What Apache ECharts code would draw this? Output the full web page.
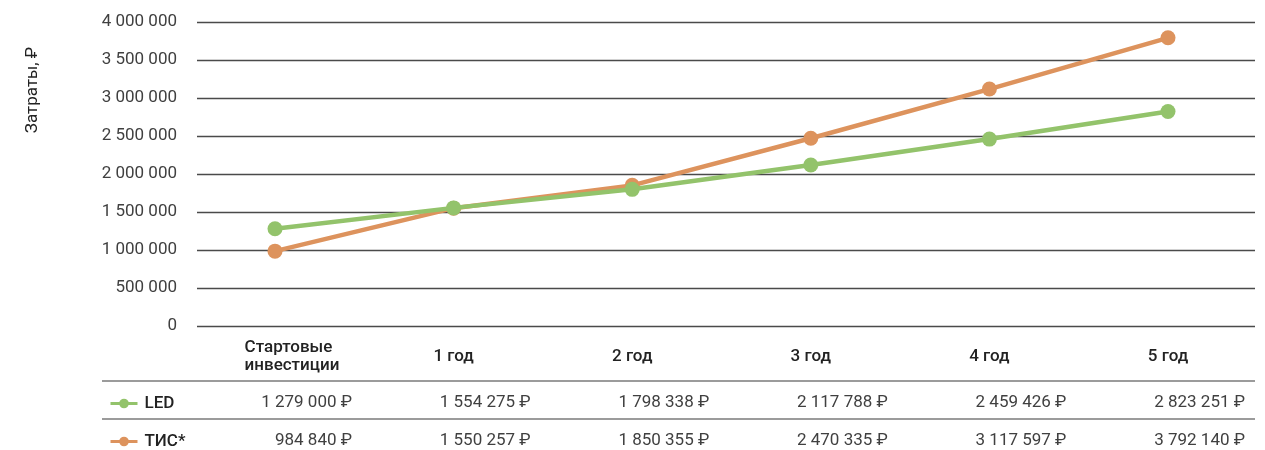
<!DOCTYPE html>
<html>
<head>
<meta charset="utf-8">
<script src="https://cdn.jsdelivr.net/npm/echarts@6/dist/echarts.min.js"></script>
<style>
  html, body { margin: 0; padding: 0; background: #ffffff; }
  #chart { width: 1265px; height: 450px; }
</style>
</head>
<body>
<div id="chart"></div>
<script>
// Cost comparison: LED lighting vs. ТИС over five years
const categories = ['Стартовые\nинвестиции', '1 год', '2 год', '3 год', '4 год', '5 год'];
const seriesNames = ['LED', 'ТИС*'];
const ledCosts = [1279000, 1554275, 1798338, 2117788, 2459426, 2823251];
const ticCosts = [984840, 1550257, 1850355, 2470335, 3117597, 3792140];
const yMin = 0;
const yMax = 4000000;
const yStep = 500000;
const yAxisTitle = 'Затраты, ₽';
const currency = '₽';

const FONT = 'Roboto, "DejaVu Sans", sans-serif';
const GREEN = '#93C36B';
const ORANGE = '#DD935D';

function groupDigits(v) {
  return String(v).replace(/\B(?=(\d{3})+(?!\d))/g, ' ');
}

const chart = echarts.init(document.getElementById('chart'), null, { renderer: 'canvas' });

const plotTop = 22;
const plotBottom = 124;
const rowY = [402, 440];

function legendRow(name, top) {
  return {
    orient: 'horizontal',
    left: 104,
    top: top,
    itemWidth: 27,
    itemHeight: 12,
    data: [name],
    lineStyle: { width: 3 },
    textStyle: {
      color: '#222222',
      fontSize: 17,
      fontWeight: 500,
      fontFamily: FONT,
      padding: [0, 0, 0, 2]
    }
  };
}

const option = {
  backgroundColor: '#ffffff',
  animation: false,
  textStyle: { fontFamily: FONT },
  grid: [
    // background grid: tick labels and horizontal rules
    { left: 197, right: 10, top: plotTop, bottom: plotBottom },
    // data grid: the two cost lines and the category labels
    { left: 275, right: 97, top: plotTop, bottom: plotBottom }
  ],
  xAxis: [
    { gridIndex: 0, type: 'value', show: false, min: 0, max: 1 },
    {
      gridIndex: 1,
      type: 'category',
      boundaryGap: false,
      data: categories,
      axisLine: { show: false },
      axisTick: { show: false },
      splitLine: { show: false },
      axisLabel: {
        margin: 31,
        verticalAlign: 'middle',
        color: '#222222',
        fontSize: 17,
        fontWeight: 500,
        fontFamily: FONT,
        lineHeight: 18,
        interval: 0,
        formatter: function (value) {
          const lines = value.split('\n');
          if (lines.length > 1) {
            return lines.map(l => '{m|' + l + '}').join('\n');
          }
          return value;
        },
        rich: {
          m: {
            align: 'left',
            padding: [0, 0, 0, 34],
            color: '#222222',
            fontSize: 17,
            fontWeight: 500,
            fontFamily: FONT,
            lineHeight: 18
          }
        }
      }
    }
  ],
  yAxis: [
    {
      gridIndex: 0,
      type: 'value',
      min: yMin,
      max: yMax,
      interval: yStep,
      axisLine: { show: false },
      axisTick: { show: false },
      axisLabel: {
        margin: 20,
        color: '#404040',
        fontSize: 17,
        fontFamily: FONT,
        formatter: v => groupDigits(v)
      },
      splitLine: { show: true, lineStyle: { color: '#4a4a4a', width: 1.3 } }
    },
    {
      gridIndex: 1,
      type: 'value',
      min: yMin,
      max: yMax,
      interval: yStep,
      show: false,
      splitLine: { show: false }
    }
  ],
  legend: [
    legendRow(seriesNames[0], rowY[0] - 12),
    legendRow(seriesNames[1], rowY[1] - 12)
  ],
  series: [
    {
      name: seriesNames[1],
      type: 'line',
      xAxisIndex: 1,
      yAxisIndex: 1,
      data: ticCosts,
      symbol: 'circle',
      symbolSize: 15,
      color: ORANGE,
      lineStyle: { color: ORANGE, width: 4.5 },
      itemStyle: { color: ORANGE },
      z: 2
    },
    {
      name: seriesNames[0],
      type: 'line',
      xAxisIndex: 1,
      yAxisIndex: 1,
      data: ledCosts,
      symbol: 'circle',
      symbolSize: 15,
      color: GREEN,
      lineStyle: { color: GREEN, width: 4.5 },
      itemStyle: { color: GREEN },
      z: 3
    }
  ]
};

chart.setOption(option);

// Table under the plot: separator rules and per-year values, placed by category position
const rows = [ledCosts, ticCosts];
const graphics = [
  {
    type: 'text',
    x: 33,
    y: 90,
    rotation: Math.PI / 2,
    style: {
      text: yAxisTitle,
      x: 0,
      y: 0,
      align: 'center',
      verticalAlign: 'middle',
      fill: '#222222',
      font: '17px ' + FONT
    }
  },
  { type: 'line', shape: { x1: 102, y1: 381, x2: 1255, y2: 381 }, style: { stroke: '#7a7a7a', lineWidth: 1.5 } },
  { type: 'line', shape: { x1: 102, y1: 419, x2: 1255, y2: 419 }, style: { stroke: '#7a7a7a', lineWidth: 1.5 } }
];
rows.forEach((vals, r) => {
  vals.forEach((v, i) => {
    const px = chart.convertToPixel({ xAxisIndex: 1 }, i);
    graphics.push({
      type: 'text',
      x: px + 77,
      y: rowY[r] + 1,
      style: {
        text: groupDigits(v) + ' ' + currency,
        align: 'right',
        verticalAlign: 'middle',
        fill: '#404040',
        font: '17px ' + FONT
      }
    });
  });
});
chart.setOption({ graphic: graphics });
</script>
</body>
</html>
